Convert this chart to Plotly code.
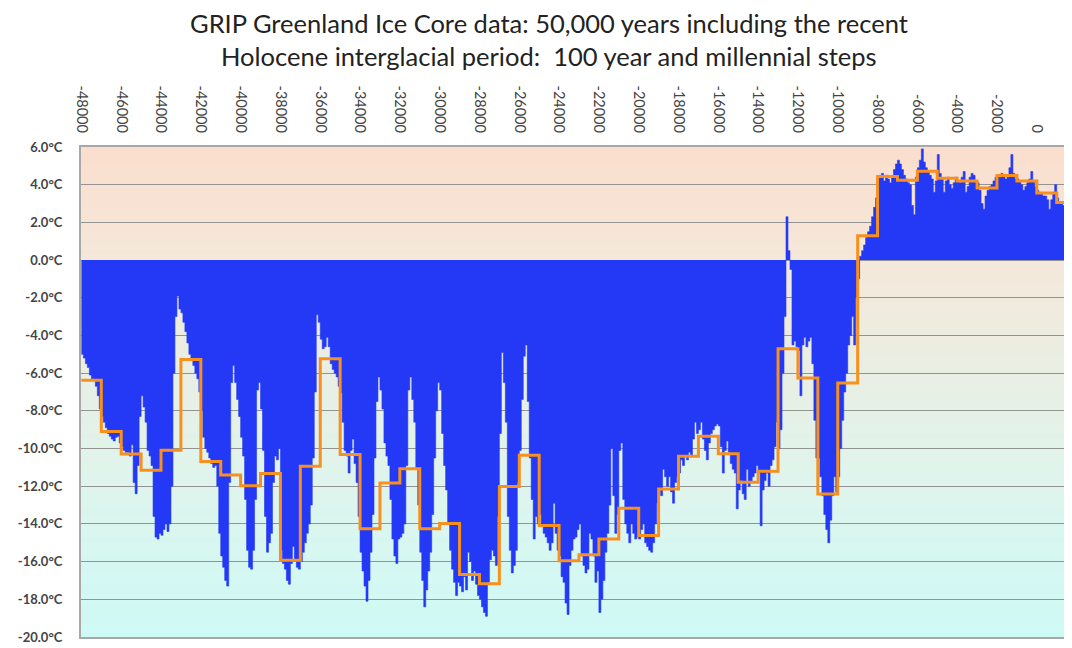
import plotly.graph_objects as go

# ---------------- data ----------------
# 100-year steps, starting at -48000 (each value covers [year, year+100))
years_100 = list(range(-48000, 2000, 100))
temp_100yr = [
    -5.0, -5.2, -5.5, -5.7, -6.1, -6.3, -6.4, -6.7, -7.2, -7.9,          # -48000
    -8.3, -8.6, -8.9, -9.2, -9.35, -9.5, -9.6, -9.4, -9.35, -9.7,       # -47000
    -9.9, -10.1, -10.2, -10.2, -10.4, -9.8, -11.8, -12.4, -10.9, -8.3,  # -46000
    -7.2, -7.8, -8.6, -10.1, -10.4, -10.9, -13.6, -14.7, -14.8, -14.5,  # -45000
    -14.6, -14.3, -14.0, -14.4, -14.0, -12.0, -6.0, -3.0, -1.9, -2.6,   # -44000
    -2.8, -3.3, -3.8, -4.4, -5.0, -5.3, -5.6, -6.0, -6.3, -7.0,         # -43000
    -8.0, -9.4, -10.0, -10.2, -10.5, -10.8, -11.0, -10.9, -12.0, -14.5, # -42000
    -15.7, -16.3, -17.0, -17.3, -11.8, -6.5, -5.6, -6.5, -7.4, -8.3,    # -41000
    -9.4, -10.4, -12.7, -15.4, -16.3, -16.4, -15.4, -12.7, -6.9, -6.5,  # -40000
    -7.9, -10.1, -13.6, -15.5, -15.0, -14.5, -11.8, -10.4, -10.6, -10.0,  # -39000
    -15.4, -16.1, -16.4, -17.0, -17.2, -16.1, -15.2, -15.9, -16.3, -16.4,  # -38000
    -16.0, -15.5, -15.0, -14.5, -14.0, -13.0, -10.5, -7.0, -2.9, -3.3,  # -37000
    -4.2, -4.7, -4.6, -4.1, -4.6, -5.5, -5.8, -6.0, -6.2, -6.7,         # -36000
    -7.05, -8.6, -10.1, -10.4, -11.3, -10.1, -9.5, -10.8, -11.8, -13.6, # -35000
    -15.5, -16.5, -17.3, -18.1, -17.0, -15.5, -13.5, -10.5, -7.5, -6.2, # -34000
    -6.9, -7.9, -9.7, -10.4, -10.9, -12.7, -14.8, -15.7, -16.1, -14.8,  # -33000
    -14.7, -14.5, -14.0, -10.9, -6.9, -6.2, -7.4, -8.6, -11.0, -13.0,   # -32000
    -15.5, -17.0, -18.4, -17.5, -16.5, -15.5, -13.5, -10.5, -8.0, -6.5, # -31000
    -6.9, -9.2, -10.9, -12.2, -14.0, -15.4, -16.4, -17.1, -17.8, -17.1, # -30000
    -17.3, -17.6, -16.8, -17.5, -15.5, -16.0, -17.0, -16.5, -17.2, -17.8,  # -29000
    -18.0, -18.4, -18.7, -18.9, -17.1, -15.9, -15.4, -15.7, -16.2, -13.6,  # -28000
    -9.2, -4.9, -6.5, -8.6, -13.6, -15.4, -16.6, -16.2, -15.4, -11.8,   # -27000
    -10.1, -7.4, -5.1, -4.5, -7.5, -10.5, -12.7, -14.8, -13.6, -14.0,   # -26000
    -13.5, -14.0, -14.5, -14.7, -15.0, -15.4, -15.0, -12.9, -14.5, -15.4,  # -25000
    -15.7, -16.8, -17.1, -18.2, -18.8, -16.2, -15.4, -14.8, -14.7, -14.3,  # -24000
    -14.0, -15.7, -16.2, -16.6, -16.4, -14.5, -14.8, -15.7, -17.1, -16.5,  # -23000
    -18.7, -18.0, -17.0, -15.5, -14.5, -13.0, -10.0, -12.5, -14.5, -13.5,  # -22000
    -10.1, -9.7, -12.7, -14.0, -14.5, -15.0, -14.0, -14.5, -14.8, -14.7,   # -21000
    -14.8, -14.3, -14.0, -15.0, -15.2, -15.4, -15.5, -15.0, -14.0, -12.9,  # -20000
    -12.2, -12.5, -11.1, -11.5, -12.0, -11.5, -12.3, -12.9, -11.8, -11.5,  # -19000
    -11.3, -10.6, -10.9, -10.4, -10.6, -10.2, -10.4, -9.5, -8.6, -9.2,     # -18000
    -9.0, -8.6, -9.5, -10.1, -10.6, -9.7, -9.2, -9.0, -8.8, -8.7,          # -17000
    -8.8, -9.9, -11.3, -10.1, -9.6, -10.2, -10.8, -11.1, -11.3, -13.2,     # -16000
    -12.2, -11.7, -12.4, -12.7, -11.1, -12.0, -11.8, -11.5, -11.3, -10.9,  # -15000
    -11.3, -14.1, -12.2, -11.7, -11.3, -12.0, -10.9, -10.6, -9.9, -8.6,    # -14000
    -10.0, -9.0, -6.0, -3.0, 2.3, 0.5, -0.5, -4.5, -4.3, -4.6,             # -13000
    -4.8, -7.2, -4.5, -4.1, -4.6, -4.3, -4.1, -5.5, -8.5, -10.5,           # -12000
    -10.5, -11.5, -12.5, -13.5, -14.3, -15.0, -13.8, -12.5, -11.5, -12.3,  # -11000
    -11.5, -10.0, -8.5, -7.0, -6.0, -4.5, -4.0, -3.0, -4.5, -2.0,          # -10000
    -1.0, 0.2, 0.5, 0.8, 1.2, 1.5, 1.8, 2.3, 2.8, 3.3,                     # -9000
    4.4, 4.5, 4.6, 4.2, 4.5, 4.3, 4.1, 4.4, 4.8, 5.1,                      # -8000
    5.3, 5.1, 4.8, 4.5, 4.3, 4.1, 4.0, 2.9, 2.4, 4.4,                      # -7000
    4.9, 5.3, 5.9, 5.2, 4.9, 4.7, 4.5, 4.3, 3.6, 4.2,                      # -6000
    5.6, 4.6, 4.3, 3.6, 4.2, 4.4, 4.0, 3.8, 4.1, 4.4,                      # -5000
    4.2, 4.1, 4.4, 4.7, 3.6, 3.9, 4.4, 4.6, 4.5, 4.2,                      # -4000
    4.1, 3.7, 3.0, 2.7, 3.4, 3.7, 3.9, 4.0, 4.2, 4.4,                      # -3000
    4.5, 4.4, 4.6, 4.5, 4.3, 4.4, 4.9, 5.6, 4.6, 4.3,                      # -2000
    4.3, 4.2, 4.0, 3.7, 3.9, 4.1, 4.3, 4.7, 4.2, 3.9,                      # -1000
    3.7, 3.6, 3.5, 3.4, 3.4, 3.2, 2.7, 3.2, 3.6, 4.0,                      # 0
    3.3, 3.1, 3.0, 2.9, 2.8, 2.7, 2.7, 2.8, 2.7, 2.6,                      # 1000
]

# millennial steps, starting at -48000 (each value covers [year, year+1000))
millennia = list(range(-48000, 2000, 1000))
temp_millennial = [
    -6.38, -9.09, -10.29, -11.15, -10.09, -5.28, -10.69, -11.40, -11.97, -11.33,
    -15.93, -10.94, -5.23, -10.32, -14.25, -11.83, -11.07, -14.25, -13.98, -16.69,
    -17.18, -12.02, -10.36, -14.09, -15.95, -15.63, -14.80, -13.17, -14.62, -12.15,
    -10.41, -9.35, -10.27, -11.79, -11.21, -4.70, -6.26, -12.41, -6.52, 1.29,
    4.44, 4.23, 4.71, 4.34, 4.20, 3.82, 4.49, 4.20, 3.56, 3.06,
]

x_tick_values = list(range(-48000, 4000, 2000))
x_tick_labels = [str(v) for v in x_tick_values]
y_tick_values = list(range(-20, 7, 2))
y_tick_labels = ["%.1f°C" % v for v in y_tick_values]

title_line1 = "GRIP Greenland Ice Core data: 50,000 years including the recent"
title_line2 = "Holocene interglacial period:  100 year and millennial steps"

# ---------------- figure ----------------
end_year = 2000
bar_x = years_100 + [end_year]
bar_y = temp_100yr + [temp_100yr[-1]]
step_x = millennia + [end_year]
step_y = temp_millennial + [temp_millennial[-1]]

fig = go.Figure()
fig.add_trace(go.Scatter(
    x=bar_x, y=bar_y, mode="lines", line=dict(shape="hv", width=0.6, color="#2339F5"),
    fill="tozeroy", fillcolor="#2339F5", hoverinfo="skip", showlegend=False,
))
fig.add_trace(go.Scatter(
    x=step_x, y=step_y, mode="lines", line=dict(shape="hv", width=3, color="#F7901E"),
    showlegend=False,
))

# background vertical gradient (peach at top -> pale cyan at bottom)
stops = [(-20, (206, 250, 246)), (-10, (226, 243, 234)), (0, (244, 232, 218)), (6, (251, 222, 205))]


def col_at(v):
    for (a, ca), (b, cb) in zip(stops[:-1], stops[1:]):
        if a <= v <= b:
            t = (v - a) / (b - a)
            c = [round(ca[i] + (cb[i] - ca[i]) * t) for i in range(3)]
            return "rgb(%d,%d,%d)" % tuple(c)
    return "rgb(%d,%d,%d)" % stops[-1][1]


shapes = []
n_bands = 104
for i in range(n_bands):
    y0 = -20 + 26 * i / n_bands
    y1 = -20 + 26 * (i + 1) / n_bands
    shapes.append(dict(type="rect", xref="paper", yref="y", x0=0, x1=1,
                       y0=y0, y1=min(6, y1 + 0.05), fillcolor=col_at((y0 + y1) / 2),
                       line=dict(width=0), layer="below"))

# page body has an 8px margin, so the figure is sized to fit the window
fig.update_layout(
    width=1064, height=640,
    margin=dict(l=73, r=0, t=139, b=11),
    paper_bgcolor="white", plot_bgcolor="white",
    shapes=shapes,
    showlegend=False,
    font=dict(family="Lato, 'Open Sans', sans-serif", color="#333"),
    annotations=[
        dict(text=title_line1, x=0.4722, y=1.254, xref="paper", yref="paper",
             xanchor="center", yanchor="middle", showarrow=False,
             font=dict(size=25.5, color="#222", family="Lato")),
        dict(text=title_line2, x=0.4722, y=1.185, xref="paper", yref="paper",
             xanchor="center", yanchor="middle", showarrow=False,
             font=dict(size=25.5, color="#222", family="Lato")),
    ],
)
fig.update_xaxes(
    range=[-48020, 1769], side="top", tickmode="array",
    tickvals=x_tick_values, ticktext=x_tick_labels, tickangle=90,
    tickfont=dict(size=14.5, color="#444", family="Lato"),
    showgrid=False, zeroline=False, showline=True, mirror=True,
    linecolor="#a8a8a8", linewidth=2, ticks="", ticklabelstandoff=7,
    automargin=False,
)
fig.update_yaxes(
    range=[-20, 6], tickmode="array", tickvals=y_tick_values, ticktext=y_tick_labels,
    tickfont=dict(size=13, color="#444", family="Lato", weight="bold"),
    showgrid=True, gridcolor="#939393", gridwidth=1.3,
    zeroline=True, zerolinecolor="#939393", zerolinewidth=1.3,
    showline=True, linecolor="#a8a8a8", linewidth=2, ticks="", ticklabelstandoff=14,
    automargin=False,
)

fig.write_html("out.html")
